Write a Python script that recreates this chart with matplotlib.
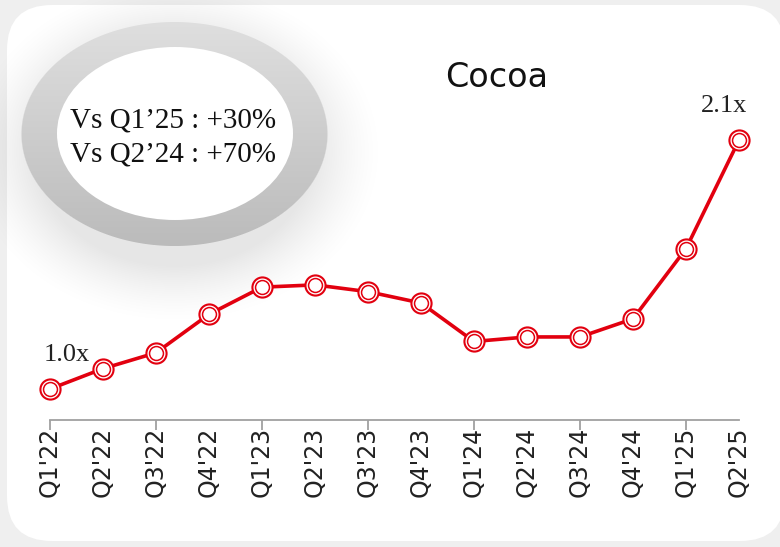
import numpy as np
import matplotlib.pyplot as plt
from matplotlib.patches import FancyBboxPatch, Ellipse

# Cocoa price index by quarter (Q1'22 = 1.0x)
quarters = ["Q1'22", "Q2'22", "Q3'22", "Q4'22",
            "Q1'23", "Q2'23", "Q3'23", "Q4'23",
            "Q1'24", "Q2'24", "Q3'24", "Q4'24",
            "Q1'25", "Q2'25"]
cocoa_index = [1.00, 1.09, 1.16, 1.33,
               1.45, 1.46, 1.43, 1.38,
               1.21, 1.23, 1.23, 1.31,
               1.62, 2.10]
chart_title = "Cocoa"
comparison_lines = ["Vs Q1\u201925 : +30%", "Vs Q2\u201924 : +70%"]

RED = "#e2000f"
SERIF = ["Liberation Serif", "DejaVu Serif"]

fig = plt.figure(figsize=(7.8, 5.47), dpi=100, facecolor="#efefef")

# background layer in pixel units (origin at top-left)
bg = fig.add_axes([0, 0, 1, 1])
bg.set_xlim(0, 780)
bg.set_ylim(547, 0)
bg.axis("off")

card = FancyBboxPatch((7, 5), 778, 536, boxstyle="round,pad=0,rounding_size=45",
                      fc="white", ec="none", zorder=1)
bg.add_patch(card)

# grey ring + soft drop glow behind the comparison bubble
xs = np.arange(0, 420) + 0.5
ys = np.arange(0, 320) + 0.5
X, Y = np.meshgrid(xs, ys)
cx, cy, rx, ry = 174.5, 134.0, 153.0, 112.0
r = np.sqrt(((X - cx) / rx) ** 2 + ((Y - cy) / ry) ** 2)
ring = 0.13 + 0.14 * np.clip((Y - 22) / 223, 0, 1)
edge = np.clip((1.0 - r) * 120 + 0.5, 0, 1)
rg = np.sqrt(((X - cx) / (rx + 10)) ** 2 + ((Y - cy - 18) / (ry + 22)) ** 2)
glow = 0.10 * np.clip(1 - (rg - 0.85) / 0.45, 0, 1) ** 1.5
dark = ring * edge + glow * (1 - edge)
halo = np.zeros((len(ys), len(xs), 4))
halo[..., 3] = np.clip(dark, 0, 1)
bg.imshow(halo, extent=(0, 420, 320, 0), aspect="auto", zorder=2,
          interpolation="bilinear")
bg.set_xlim(0, 780)
bg.set_ylim(547, 0)

bubble = Ellipse((175, 133.5), 236, 173, fc="white", ec="none", zorder=3)
bg.add_patch(bubble)
for i, line in enumerate(comparison_lines):
    bg.text(173, 128 + 34 * i, line, ha="center", va="baseline",
            fontsize=21, family=SERIF, color="#111111", zorder=4)

bg.text(497, 87, chart_title, ha="center", va="baseline",
        fontsize=24, family="DejaVu Sans", color="#111111", zorder=4)

# line chart
ax = fig.add_axes([50 / 780, 127 / 547, 689 / 780, 320 / 547])
ax.patch.set_visible(False)
x = np.arange(len(quarters))
ax.plot(x, cocoa_index, color=RED, lw=2.6, zorder=3, clip_on=False)
ax.plot(x, cocoa_index, "o", ms=14.5, mfc="white", mec=RED, mew=1.5,
        zorder=4, clip_on=False)
ax.plot(x, cocoa_index, "o", ms=10, mfc="white", mec=RED, mew=1.1,
        zorder=5, clip_on=False)

ax.set_xlim(0, len(quarters) - 1)
ax.set_ylim(0.863, 2.277)

for s in ["top", "right", "left"]:
    ax.spines[s].set_visible(False)
ax.spines["bottom"].set_color("#a0a0a0")
ax.spines["bottom"].set_linewidth(1.3)
ax.set_yticks([])

ax.set_xticks(x, quarters, rotation=90, fontsize=17, color="#222222",
              family="DejaVu Sans")
ax.tick_params(axis="x", which="major", length=0, pad=5)
# tick marks only on every other quarter
ax.xaxis.remove_overlapping_locs = False
ax.set_xticks(x[::2], minor=True)
ax.tick_params(axis="x", which="minor", length=7, width=1.3, color="#a0a0a0")

# start / end multiples
ax.annotate(f"{cocoa_index[0]:.1f}x", (x[0], cocoa_index[0]), xytext=(12, 20),
            textcoords="offset points", ha="center", va="baseline",
            fontsize=19, family=SERIF, color="#222222")
ax.annotate(f"{cocoa_index[-1]:.1f}x", (x[-1], cocoa_index[-1]), xytext=(-11, 20),
            textcoords="offset points", ha="center", va="baseline",
            fontsize=19, family=SERIF, color="#222222")

fig.savefig("out.png", dpi=100, facecolor=fig.get_facecolor())
